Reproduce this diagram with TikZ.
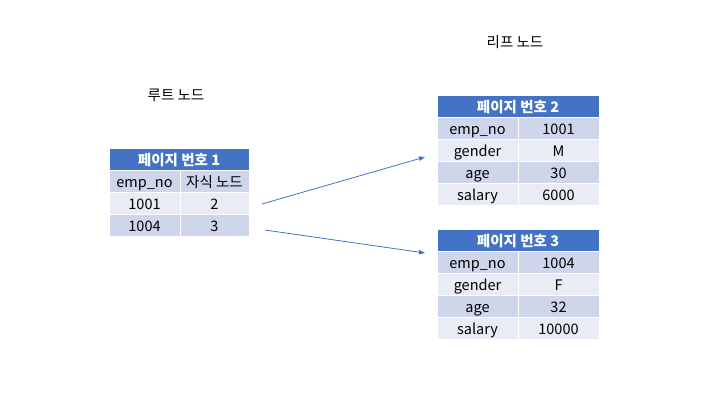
\documentclass[tikz,border=0pt]{standalone}
\usepackage{fontspec}
\setmainfont{Noto Sans CJK KR}
\usetikzlibrary{arrows.meta}
\definecolor{hdr}{HTML}{4472C4}
\definecolor{rowA}{HTML}{CFD5EA}
\definecolor{rowB}{HTML}{E9EBF5}
\begin{document}
\begin{tikzpicture}[x=1pt,y=-1pt,
 cell/.style={draw=white, line width=0.8pt, minimum height=22pt, inner sep=0pt, text height=13pt, text depth=1pt, font=\fontsize{14.5}{16}\selectfont, text=black},
 hd/.style={cell, fill=hdr, text=white, font=\fontsize{14.5}{16}\selectfont\bfseries},
 ra/.style={cell, fill=rowA}, rb/.style={cell, fill=rowB},
 lbl/.style={font=\fontsize{14.5}{17}\selectfont},
 conn/.style={draw=hdr, line width=0.8pt, -{Triangle[length=6pt,width=4.5pt]}}]
\path[use as bounding box] (0,0) rectangle (720,405);
% labels
\node[lbl] (rootlbl) at (176,95) {루트 노드};
\node[lbl] (leaflbl) at (515,42) {리프 노드};
% table 1
\node[hd, minimum width=140pt] (t1h) at (179,159.5) {페이지 번호 1};
\node[ra, minimum width=71pt] (t1a1) at (144.5,181) {emp\_no};
\node[ra, minimum width=69pt] (t1a2) at (214.5,181) {자식 노드};
\node[rb, minimum width=71pt] (t1b1) at (144.5,203) {1001};
\node[rb, minimum width=69pt] (t1b2) at (214.5,203) {2};
\node[ra, minimum width=71pt] (t1c1) at (144.5,225) {1004};
\node[ra, minimum width=69pt] (t1c2) at (214.5,225) {3};
% table 2
\node[hd, minimum width=162pt] (t2h) at (518,106) {페이지 번호 2};
\node[ra, minimum width=81pt] (t2a1) at (477.5,128) {emp\_no};
\node[ra, minimum width=81pt] (t2a2) at (558.5,128) {1001};
\node[rb, minimum width=81pt] (t2b1) at (477.5,150) {gender};
\node[rb, minimum width=81pt] (t2b2) at (558.5,150) {M};
\node[ra, minimum width=81pt] (t2c1) at (477.5,172) {age};
\node[ra, minimum width=81pt] (t2c2) at (558.5,172) {30};
\node[rb, minimum width=81pt] (t2d1) at (477.5,194) {salary};
\node[rb, minimum width=81pt] (t2d2) at (558.5,194) {6000};
% table 3
\node[hd, minimum width=162pt] (t3h) at (518,240) {페이지 번호 3};
\node[ra, minimum width=81pt] (t3a1) at (477.5,262) {emp\_no};
\node[ra, minimum width=81pt] (t3a2) at (558.5,262) {1004};
\node[rb, minimum width=81pt] (t3b1) at (477.5,284) {gender};
\node[rb, minimum width=81pt] (t3b2) at (558.5,284) {F};
\node[ra, minimum width=81pt] (t3c1) at (477.5,306) {age};
\node[ra, minimum width=81pt] (t3c2) at (558.5,306) {32};
\node[rb, minimum width=81pt] (t3d1) at (477.5,328) {salary};
\node[rb, minimum width=81pt] (t3d2) at (558.5,328) {10000};
% connectors
\coordinate (a1s) at (262,204);
\coordinate (a1e) at (425,157);
\coordinate (a2s) at (265,230);
\coordinate (a2e) at (425,253);
\draw[conn] (a1s) -- (a1e);
\draw[conn] (a2s) -- (a2e);
\end{tikzpicture}
\end{document}
